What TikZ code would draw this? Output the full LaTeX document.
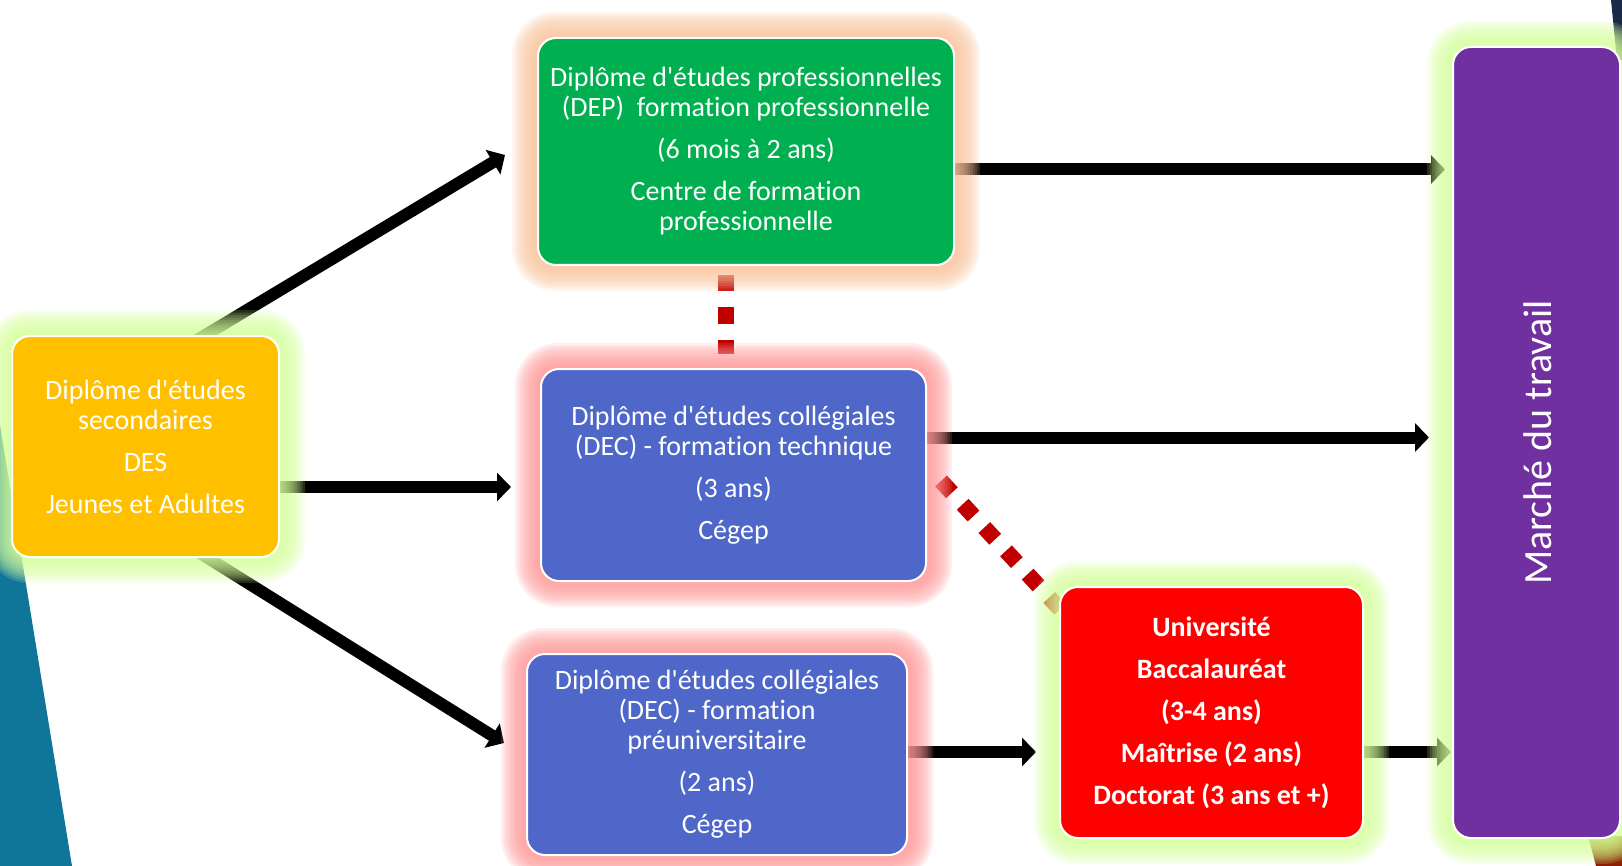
\documentclass[tikz,border=0pt]{standalone}
\usepackage{fontspec}
\setmainfont{Carlito}[Ligatures={TeXOff,NoCommon}]
\usetikzlibrary{calc,arrows.meta}
\pgfdeclarelayer{back}
\pgfdeclarelayer{arrows}
\pgfdeclarelayer{glow}
\pgfsetlayers{back,arrows,glow,main}
\definecolor{desy}{HTML}{FFC000}
\definecolor{depg}{HTML}{00B050}
\definecolor{decb}{HTML}{4E67C8}
\definecolor{univr}{HTML}{FF0000}
\definecolor{mpurple}{HTML}{7030A0}
\definecolor{dotred}{HTML}{C00000}
\definecolor{tealc}{HTML}{0F7699}
\definecolor{navyc}{HTML}{1B2A48}
\definecolor{glowpeach}{HTML}{F9C29A}
\definecolor{glowpink}{HTML}{FF9898}
\definecolor{glowgreen}{HTML}{D4FF9A}
\definecolor{brownc}{HTML}{9C6A00}
\definecolor{darkredc}{HTML}{8A1A05}
\newcommand\glowbox[2]{%
  \foreach \i in {1,...,10}{%
    \pgfmathsetmacro\rr{9+1.25*\i}%
    \fill[#2, opacity=0.17, rounded corners=\rr pt]
      ($(#1.south west)+(-2.5*\i,2.5*\i)$) rectangle ($(#1.north east)+(2.5*\i,-2.5*\i)$);
  }}
\begin{document}
\begin{tikzpicture}[x=0.5pt,y=-0.5pt,
  box/.style={draw=white, line width=1pt, rounded corners=9pt, text=white,
    align=center, inner sep=0pt, font=\fontsize{14}{15}\selectfont},
  arr/.style={line width=6pt, black, -{Triangle[width=14pt,length=7pt]}},
  dots/.style={draw=dotred, line width=8pt, dash pattern=on 8pt off 8.25pt},
  ddots/.style={draw=dotred, line width=8pt, dash pattern=on 8pt off 7.9pt}]
\useasboundingbox (0,0) rectangle (1622,866);
\clip (0,0) rectangle (1622,866);

% boxes
\node[box, fill=desy, minimum width=133.5pt, minimum height=110.5pt] (des) at (145.5,446.5)
  {Diplôme d'études\\secondaires\\[6pt]DES\\[6pt]Jeunes et Adultes};
\node[box, fill=depg, minimum width=208pt, minimum height=113.5pt] (dep) at (746,151.5)
  {Diplôme d'études professionnelles\\(DEP)~ formation professionnelle\\[6pt](6 mois à 2 ans)\\[6pt]Centre de formation\\professionnelle};
\node[box, fill=decb, minimum width=192.5pt, minimum height=106pt] (dectech) at (733.5,475)
  {Diplôme d'études collégiales\\(DEC) - formation technique\\[6pt](3 ans)\\[6pt]Cégep};
\node[box, fill=decb, minimum width=190pt, minimum height=100.5pt] (decpre) at (717,754.5)
  {Diplôme d'études collégiales\\(DEC) - formation\\préuniversitaire\\[6pt](2 ans)\\[6pt]Cégep};
\node[box, fill=univr, minimum width=151.5pt, minimum height=125.5pt, font=\fontsize{14}{15}\selectfont\bfseries] (univ) at (1211.5,712.5)
  {Université\\[6pt]Baccalauréat\\[6pt](3-4 ans)\\[6pt]Maîtrise (2 ans)\\[6pt]Doctorat (3 ans et +)};
\node[box, fill=mpurple, minimum width=83.5pt, minimum height=395.5pt] (marche) at (1536.5,442.5) {};
\node[rotate=90, text=white, font=\fontsize{20}{22}\selectfont, inner sep=0pt] (marchetxt) at ($(marche.center)+(1.5,0)$) {Marché du travail};

% glows
\begin{pgfonlayer}{glow}
  \glowbox{des}{glowgreen}
  \glowbox{univ}{glowgreen}
  \glowbox{marche}{glowgreen}
  \glowbox{dep}{glowpeach}
  \glowbox{dectech}{glowpink}
  \glowbox{decpre}{glowpink}
\end{pgfonlayer}

% background decorations
\begin{pgfonlayer}{back}
  \fill[tealc] (0,425) -- (72,866) -- (0,866) -- cycle;
  \fill[navyc] (1611,0) -- (1622,0) -- (1622,60) -- (1617,60) -- cycle;
  \shade[top color=brownc, bottom color=darkredc] (1588,836) -- (1622,836) -- (1622,866) -- (1596,866) -- cycle;
\end{pgfonlayer}

% connectors
\begin{pgfonlayer}{arrows}
  \coordinate (a4) at ($(dep.east)+(-4,18)$);
  \coordinate (a5) at ($(dectech.east)+(-4,-37.5)$);
  \coordinate (a6) at ($(decpre.east)+(-4,-2.5)$);
  \coordinate (a7) at ($(univ.east)+(-4,39.5)$);
  \coordinate (v1) at ($(dep.south)+(-20,9)$);
  \draw[arr] ($(des.north)+(40,12)$) -- ($(dep.west)+(-32,3.5)$);
  \draw[arr] ($(des.east)+(-6,40.5)$) -- ($(dectech.west)+(-29,12)$);
  \draw[arr] ($(des.south)+(40,-14)$) -- ($(decpre.west)+(-22,-11.5)$);
  \draw[arr] (a4) -- ($(a4 -| marche.west)+(-7,0)$);
  \draw[arr] (a5) -- ($(a5 -| marche.west)+(-23,0)$);
  \draw[arr] (a6) -- ($(a6 -| univ.west)+(-23,0)$);
  \draw[arr] (a7) -- ($(a7 -| marche.west)+(-1,0)$);
  \draw[dots] (v1) -- ($(v1 |- dectech.north)+(0,-14)$);
  \draw[ddots] ($(dectech.east)+(14,6)$) -- ($(univ.north west)+(15,38)$);
\end{pgfonlayer}
\end{tikzpicture}
\end{document}
